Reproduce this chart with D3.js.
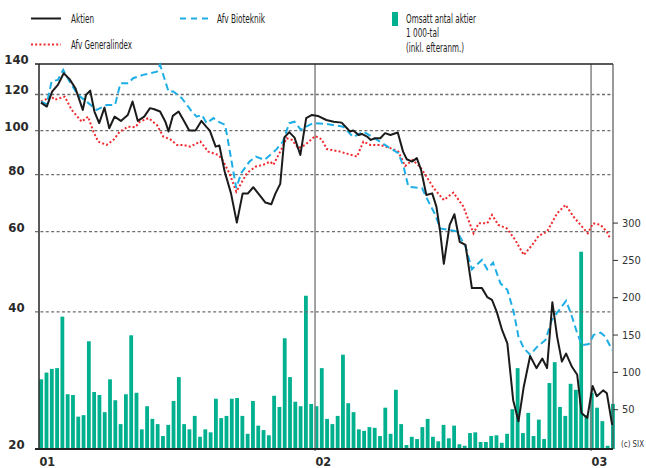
<!DOCTYPE html>
<html><head><meta charset="utf-8">
<script src="https://cdn.jsdelivr.net/npm/d3@7"></script>
<style>
body{margin:0;background:#fff}
svg{display:block}
text{font-family:"Liberation Sans Narrow","DejaVu Sans Condensed","Arial Narrow",sans-serif}
</style>
</head><body>
<svg id="c" width="646" height="468"></svg>
<script>
// ---- data ----
const yTicks = [20, 40, 60, 80, 100, 120, 140];
const volTicks = [50, 100, 150, 200, 250, 300];
const yearLabels = ["01", "02", "03"];
const yearDates = ["2001-01-01", "2002-01-01", "2003-01-01"];
const legendLabels = ["Aktien", "Afv Generalindex", "Afv Bioteknik"];
const volLegend = ["Omsatt antal aktier", "1 000-tal", "(inkl. efteranm.)"];
const sourceText = "(c) SIX";

// weekly traded volume (1 000-tal)
const volume = [90,99,104,105,174,70,69,40,42,141,
 73,69,46,90,62,30,70,149,72,23,
 54,37,30,14,29,61,93,30,23,41,
 13,23,19,64,38,41,64,65,41,17,
 61,28,22,15,68,53,145,93,60,54,
 202,57,54,105,37,30,41,123,58,46,
 23,21,26,25,14,52,17,76,30,2,
 13,10,26,37,13,7,29,11,28,3,
 1,18,19,6,6,14,15,5,17,50,
 105,18,45,14,36,10,85,113,53,41,
 84,76,261,42,72,52,34,1,57];

// [week since 2001-01-01, index value]
const aktien = [[0,115.2],[1.1,112.9],[2.1,121.8],[3.2,126],[4.3,133.6],[5.4,129.7],[6.5,123.9],[7.9,111],[8.5,119.7],[9.3,122.4],[10.1,110.1],[11,103.8],[12,112.3],[12.9,101.2],[13.9,107.3],[15.1,105],[16.4,108.2],[17.3,115.8],[18.3,105],[19.5,107.3],[20.6,112],[21.4,111.4],[22.5,110.1],[23.5,104.6],[24.1,99.5],[24.9,107.7],[26,110.1],[27.1,104.6],[28,100],[29.2,100],[30.3,105],[31.2,102],[31.9,100],[33,92.2],[33.7,92.7],[34.7,81.3],[35.9,72.8],[37,62.8],[38.1,72.8],[39.1,72.8],[40.1,75.1],[41.3,72.2],[42.4,69.5],[43.5,68.9],[44.3,72.8],[45.2,76.4],[46,96.7],[46.9,99.2],[47.9,96.5],[49,88.4],[50.1,106.5],[51.2,108.2],[52.3,107.7],[53.9,105.5],[55.3,104.6],[56.8,104.1],[57.8,101.2],[58.4,99.5],[59,100],[60,97.8],[60.6,98.3],[61.6,97],[62.3,95.4],[63.1,96.2],[64.1,96.2],[65,98.7],[66,97.8],[67.4,99],[68.4,89.9],[69.1,86.5],[70.1,85.5],[71,87],[71.8,82],[72.8,72.2],[73.9,72.8],[74.7,68.1],[75.4,60],[76.1,51],[77.2,62.1],[78.1,65.5],[79.1,57],[80.2,56.1],[81.4,45.1],[83.3,45.1],[84.3,43.1],[85.2,42.5],[86.1,40],[87.1,36.5],[88.1,34.1],[89.2,25.6],[90.2,23],[91.2,27.4],[92.4,32],[93.6,30.1],[94.7,31.6],[95.6,30.1],[96.6,42],[97.5,35.3],[98.4,31.1],[99.2,32.4],[100.3,30.3],[101.3,29.1],[102.1,24],[103.2,23.4],[104.2,27.5],[105,26.1],[106.2,26.9],[106.9,26.5],[107.9,22.6]];

const bioteknik = [[0,115.8],[1.1,114.3],[2,128.1],[3.2,129.2],[4.2,135.9],[5.4,128.1],[6.6,121.8],[7.4,118.7],[8.6,115.8],[10.5,111],[12.4,113.8],[14,113.8],[15,127],[16.5,127],[17.4,130.3],[19.3,132.5],[21.9,134.7],[22.5,139.4],[24.1,121.8],[25,121.8],[26.6,117.8],[28.5,110.1],[29.4,107.3],[30.4,108.2],[31.3,103.8],[32.6,106.5],[33.5,104.6],[34.8,102.9],[36.9,74.7],[37.8,80.6],[39.4,85.5],[40.6,87.7],[42.2,86.2],[44.4,90.7],[45.7,94.6],[46.9,103.8],[47.9,104.6],[49.1,100.3],[50.1,102],[51.4,103.8],[53.9,103.4],[57.1,102],[59,96.7],[60.9,99.5],[63.5,95.4],[65.7,91.9],[67.5,89.2],[68.5,83.3],[69.4,75.3],[72,74.7],[72.9,71],[74.5,65.3],[75.4,61],[77.3,60.5],[78.6,60],[80.2,55.6],[81.4,49.6],[83.3,52],[84.3,49.6],[85.4,51.3],[86.8,46.2],[88.1,44.7],[89.3,40],[90.2,35.3],[91.2,33.3],[92.4,32.2],[93.7,33.5],[95.3,34.7],[96.5,38.4],[98.1,40.7],[99.2,42.3],[100.1,39.7],[101.3,35.9],[102.2,33.8],[103.5,34],[104.4,35.6],[105.7,36],[106.6,35.3],[107.9,33]];

const generalindex = [[0,115.8],[2,118.7],[2.6,116.8],[3.6,117.8],[4.5,118.7],[5.8,111],[7.7,104.6],[8.9,107.3],[9.9,99.5],[10.8,94.6],[12.4,93],[13.7,95.4],[14.9,99.5],[16.5,102],[17.8,101.7],[18.7,104.6],[20.3,106.5],[21.9,102.9],[23.1,97],[24.4,95.7],[25.7,93],[26.9,93],[28.2,92.2],[30.1,94.6],[31.6,89.9],[33.5,88.4],[34.3,86.2],[35.6,80.6],[36.9,73.4],[38.9,80.6],[40.5,83.3],[42,84.1],[43.3,85.5],[43.9,84.1],[45.2,89.9],[46.4,96.2],[47.4,95.4],[48.6,91.5],[49.9,93],[51.8,97.3],[53,95.7],[54,91.1],[56.5,89.9],[59.7,87.7],[60.9,94.6],[62.2,93],[64.1,93],[66,91.5],[67.5,89.9],[68.8,83.6],[70.2,86.2],[71.6,83.3],[72.6,80],[74.2,74.7],[76.1,70.4],[77.9,73.1],[79.8,68.1],[81.7,59.5],[82.7,62.6],[84.3,62.6],[85.2,65.3],[86.4,62.1],[88,61],[89.6,57.5],[91.2,53.3],[92.8,56.1],[94,58.7],[95.6,60],[97.5,65.8],[99.1,68.7],[100.6,64.7],[101.9,62.1],[103.3,59.5],[104.3,62.6],[105.7,62.1],[106.9,60],[107.5,58]];

// ---- drawing ----
(function () {
const svg = d3.select("#c");
const start = new Date(2001, 0, 1);
const DAY = 864e5;
const x = d3.scaleTime().domain([start, new Date(2003, 0, 30)]).range([39, 613]);
const y = d3.scaleLog().domain([20, 140]).range([449, 64]);
const yv = d3.scaleLinear().domain([0, 300]).range([446.5, 222.6]);
const pL = x.range()[0], pR = x.range()[1], pT = y.range()[1], pB = y.range()[0];
const barW = 3.8;
const weekDate = w => new Date(start.getTime() + w * 7 * DAY);
const lineDate = w => new Date(start.getTime() + (w * 7 + 2.6) * DAY);
const parseD = s => new Date(s + "T00:00");

const colBar = "#00b08f", colBlue = "#1eaee6", colRed = "#ee2a2f", colBlack = "#1b1b1b";

// bars
svg.append("g").selectAll("rect").data(volume).join("rect")
  .attr("x", (d, i) => x(weekDate(i)) + 0.3)
  .attr("width", barW)
  .attr("y", d => yv(d))
  .attr("height", d => pB - yv(d))
  .attr("fill", colBar);

// grid
svg.append("g").selectAll("line").data(yTicks.filter(v => v > 20 && v < 140)).join("line")
  .attr("x1", pL - 4).attr("x2", pR)
  .attr("y1", d => y(d)).attr("y2", d => y(d))
  .attr("stroke", "#6e6e6e").attr("stroke-width", 1.3).attr("stroke-dasharray", "3,2.4");

// year lines
svg.append("g").selectAll("line").data(yearDates.slice(1)).join("line")
  .attr("x1", d => x(parseD(d))).attr("x2", d => x(parseD(d)))
  .attr("y1", pT).attr("y2", pB + 2)
  .attr("stroke", "#858585").attr("stroke-width", 1.5);

// frame
svg.append("line").attr("x1", pL - 4).attr("x2", pR).attr("y1", pT).attr("y2", pT)
  .attr("stroke", "#222").attr("stroke-width", 1.4);
svg.append("line").attr("x1", pR).attr("x2", pR).attr("y1", pT).attr("y2", pB)
  .attr("stroke", "#555").attr("stroke-width", 1.2);
svg.append("line").attr("x1", pL).attr("x2", pL).attr("y1", pT).attr("y2", pB + 1)
  .attr("stroke", "#222").attr("stroke-width", 1.5);
svg.append("line").attr("x1", pL - 4).attr("x2", pR).attr("y1", pB).attr("y2", pB)
  .attr("stroke", "#222").attr("stroke-width", 1.8);

// lines
const line = d3.line().x(d => x(lineDate(d[0]))).y(d => y(d[1]));
svg.append("path").datum(generalindex).attr("d", line).attr("fill", "none")
  .attr("stroke", colRed).attr("stroke-width", 2).attr("stroke-dasharray", "2,2.2");
svg.append("path").datum(bioteknik).attr("d", line).attr("fill", "none")
  .attr("stroke", colBlue).attr("stroke-width", 2).attr("stroke-dasharray", "7,4");
svg.append("path").datum(aktien).attr("d", line).attr("fill", "none")
  .attr("stroke", colBlack).attr("stroke-width", 2).attr("stroke-linejoin", "round");

// left labels
svg.append("g").selectAll("text").data(yTicks).join("text")
  .attr("x", 16.5).attr("y", d => y(d))
  .attr("text-anchor", "middle").attr("font-size", 13).attr("font-weight", 600).attr("fill", "#2a2a2a")
  .text(d => d);

// right volume axis
const ra = svg.append("g").attr("transform", `translate(${pR},0)`)
  .call(d3.axisRight(yv).tickValues(volTicks).tickSize(5).tickPadding(4));
ra.select(".domain").remove();
ra.selectAll(".tick line").attr("stroke", "#333").attr("stroke-width", 1);
ra.selectAll(".tick text").attr("font-size", 11).attr("fill", "#333")
  .attr("font-family", '"Liberation Sans Narrow","DejaVu Sans Condensed",sans-serif');
svg.append("text").attr("x", 621).attr("y", 446.5).attr("font-size", 9).attr("fill", "#333")
  .attr("textLength", 23).attr("lengthAdjust", "spacingAndGlyphs").text(sourceText);

// x labels
svg.append("g").selectAll("text").data(yearLabels).join("text")
  .attr("x", (d, i) => x(parseD(yearDates[i])) + 0.5).attr("y", 465.5)
  .attr("font-size", 12.5).attr("font-weight", 600).attr("fill", "#2a2a2a").text(d => d);

// legend
const lg = svg.append("g");
lg.append("line").attr("x1", 31).attr("x2", 61).attr("y1", 18.5).attr("y2", 18.5)
  .attr("stroke", colBlack).attr("stroke-width", 2);
lg.append("line").attr("x1", 31).attr("x2", 61).attr("y1", 44.5).attr("y2", 44.5)
  .attr("stroke", colRed).attr("stroke-width", 2).attr("stroke-dasharray", "2,2.2");
lg.append("line").attr("x1", 180).attr("x2", 208).attr("y1", 18.5).attr("y2", 18.5)
  .attr("stroke", colBlue).attr("stroke-width", 2).attr("stroke-dasharray", "6,5");
lg.append("rect").attr("x", 392).attr("y", 12).attr("width", 6).attr("height", 14).attr("fill", colBar);
const legTexts = [
  {t: legendLabels[0], x: 71, y: 22.5, w: 23},
  {t: legendLabels[1], x: 71, y: 48.5, w: 61},
  {t: legendLabels[2], x: 217, y: 22.5, w: 48},
  {t: volLegend[0], x: 406, y: 22.5, w: 70},
  {t: volLegend[1], x: 406, y: 37, w: 33},
  {t: volLegend[2], x: 406, y: 51.5, w: 58}
];
lg.selectAll("text").data(legTexts).join("text")
  .attr("x", d => d.x).attr("y", d => d.y)
  .attr("font-size", 12).attr("fill", "#222")
  .attr("textLength", d => d.w).attr("lengthAdjust", "spacingAndGlyphs")
  .text(d => d.t);
})();
</script>
</body></html>
